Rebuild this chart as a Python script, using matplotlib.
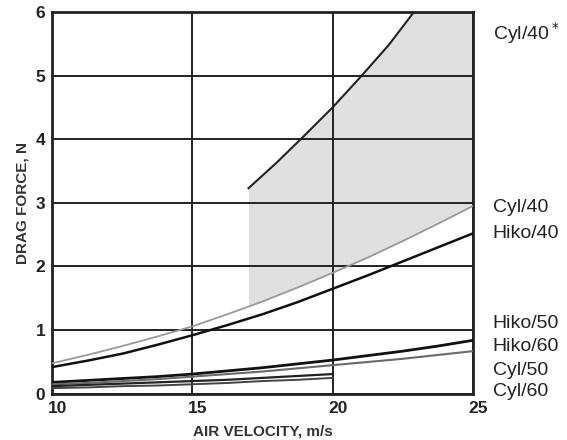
import numpy as np
import matplotlib
matplotlib.use("Agg")
import matplotlib.pyplot as plt
import matplotlib.transforms as mtrans

plt.rcParams['font.family'] = ['Liberation Sans', 'DejaVu Sans']

# air velocity, m/s
velocity = [10, 11.25, 12.5, 13.75, 15, 16.25, 17.5, 18.75, 20, 21.25, 22.5, 23.75, 25]
cyl40 = [0.48, 0.61, 0.75, 0.90, 1.06, 1.25, 1.45, 1.67, 1.90, 2.14, 2.40, 2.67, 2.95]
hiko40 = [0.42, 0.52, 0.63, 0.77, 0.92, 1.08, 1.25, 1.44, 1.65, 1.86, 2.08, 2.30, 2.52]
hiko50 = [0.18, 0.21, 0.24, 0.27, 0.31, 0.36, 0.41, 0.47, 0.53, 0.60, 0.67, 0.75, 0.84]
hiko60 = [0.15, 0.17, 0.20, 0.23, 0.27, 0.31, 0.35, 0.40, 0.45, 0.50, 0.55, 0.61, 0.67]

# these two stop at 20 m/s
velocity_short = [10, 11.25, 12.5, 13.75, 15, 16.25, 17.5, 18.75, 20]
cyl50 = [0.12, 0.14, 0.16, 0.18, 0.20, 0.22, 0.25, 0.28, 0.31]
cyl60 = [0.09, 0.10, 0.12, 0.13, 0.15, 0.17, 0.20, 0.22, 0.25]

# upper curve of the shaded band
velocity_star = [17.0, 18.0, 19.0, 20.0, 21.0, 22.0, 22.9]
cyl40_star = [3.23, 3.63, 4.06, 4.50, 4.98, 5.48, 6.0]

right_labels = ["Cyl/40$^*$", "Cyl/40", "Hiko/40", "Hiko/50", "Hiko/60", "Cyl/50", "Cyl/60"]
right_label_y = [5.66, 2.92, 2.52, 1.11, 0.75, 0.37, 0.03]

fig = plt.figure(figsize=(5.67, 4.4), dpi=100)
ax = fig.add_axes([0.092, 0.105, 0.742, 0.868])

# shaded region between Cyl/40 and Cyl/40* (capped at top of axes)
xs = np.linspace(17, 25, 200)
lower = np.interp(xs, velocity, cyl40)
upper = np.interp(xs, velocity_star, cyl40_star, right=6.0)
upper = np.minimum(upper, 6.0)
ax.fill_between(xs, lower, upper, color='#e0e0e0', lw=0, zorder=1)

ax.plot(velocity, cyl40, color='#9a9a9a', lw=1.3, zorder=3)
ax.plot(velocity, hiko40, color='#111111', lw=1.8, zorder=3)
ax.plot(velocity_star, cyl40_star, color='#222222', lw=1.5, zorder=3)
ax.plot(velocity, hiko50, color='#111111', lw=2.0, zorder=3)
ax.plot(velocity, hiko60, color='#6a6a6a', lw=1.5, zorder=3)
ax.plot(velocity_short, cyl50, color='#222222', lw=1.6, zorder=3)
ax.plot(velocity_short, cyl60, color='#444444', lw=1.4, zorder=3)

ax.set_xlim(10, 25)
ax.set_ylim(0, 6)
ax.set_xticks([10, 15, 20, 25])
ax.set_yticks([0, 1, 2, 3, 4, 5, 6])
ax.grid(True, color='#222222', lw=1.4, zorder=2)
ax.set_axisbelow(False)
for s in ax.spines.values():
    s.set_linewidth(2.0)
    s.set_color('#222222')
ax.tick_params(length=0, labelsize=12.5, pad=5, colors='#222222')
for t in ax.get_xticklabels() + ax.get_yticklabels():
    t.set_fontweight('bold')
# x tick labels sit a little right of their grid lines
shift = mtrans.ScaledTranslation(5 / 100, 0, fig.dpi_scale_trans)
for t in ax.get_xticklabels():
    t.set_transform(t.get_transform() + shift)

ax.set_xlabel("AIR VELOCITY, m/s", fontsize=11, fontweight='bold', color='#333333', labelpad=6)
ax.set_ylabel("DRAG FORCE, N", fontsize=11, fontweight='bold', color='#333333', labelpad=4)

for lab, yv in zip(right_labels, right_label_y):
    ax.text(25.7, yv, lab, fontsize=14, color='#222222', va='center', ha='left', clip_on=False)

fig.savefig("out.png", dpi=100)
